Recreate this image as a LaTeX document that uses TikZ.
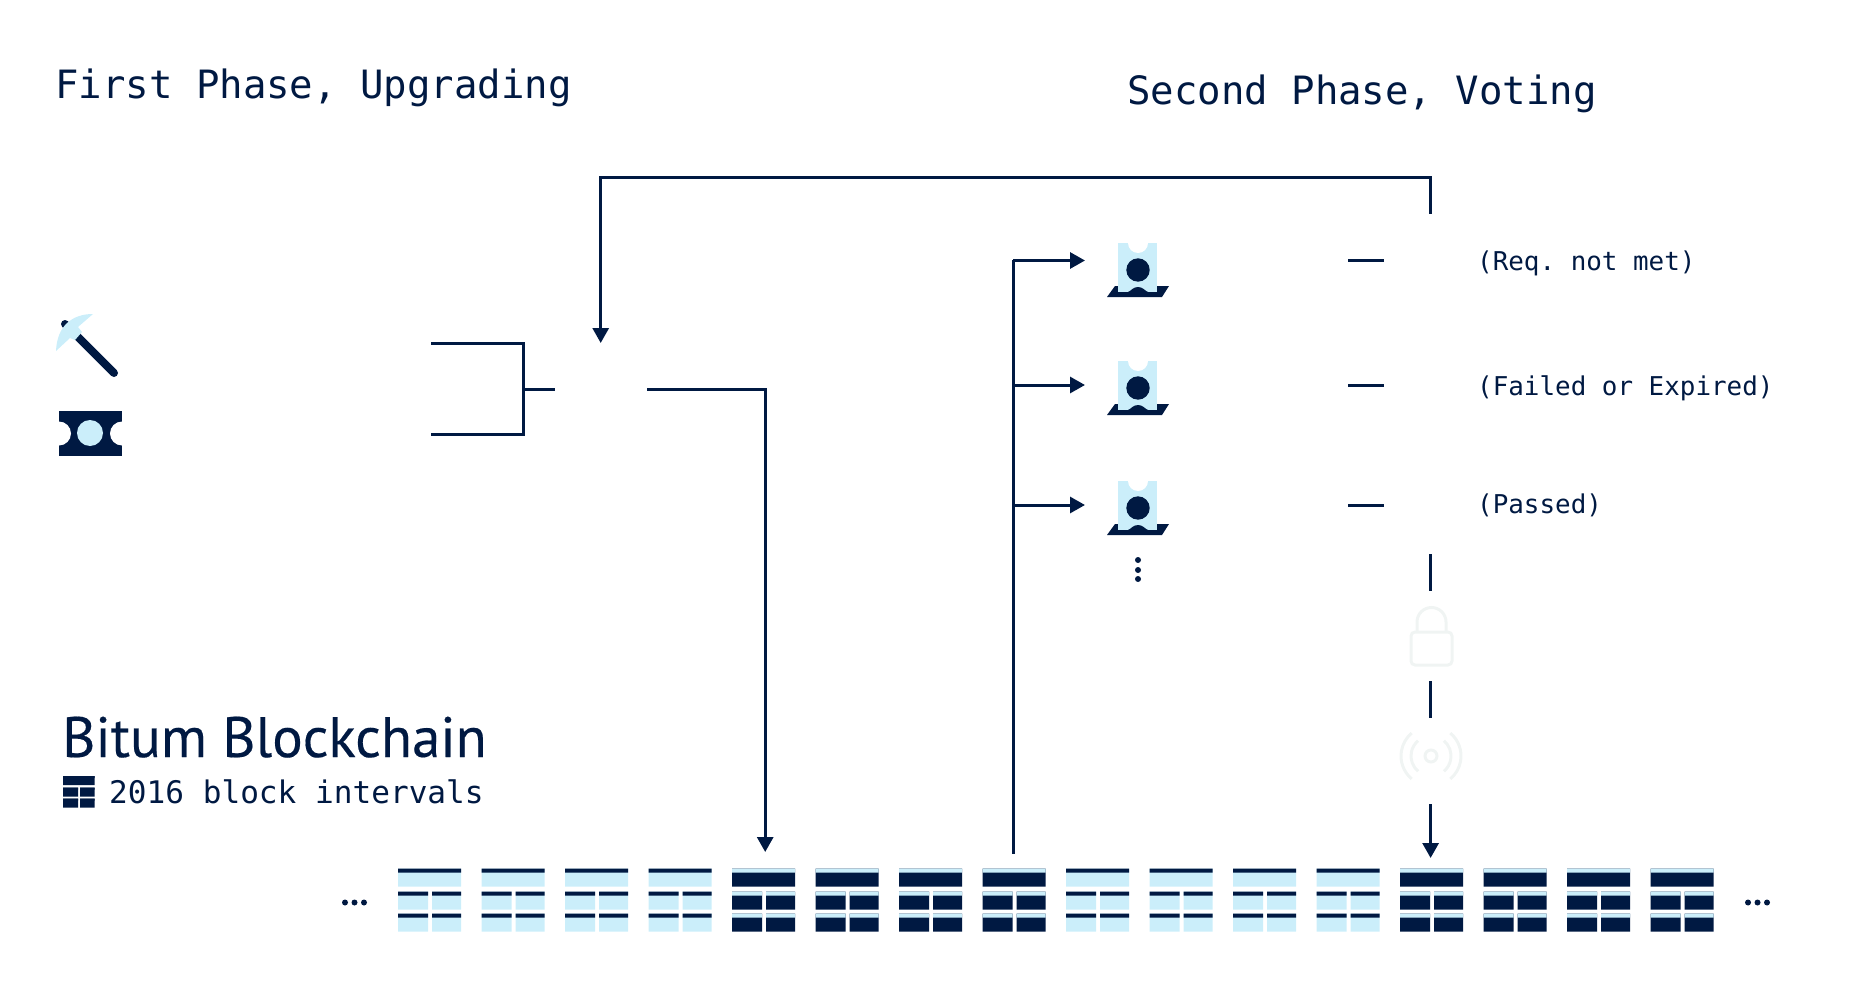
\documentclass[tikz,border=0pt]{standalone}
\usepackage{fontspec}
\setmonofont{DejaVu Sans Mono}
\newfontfamily\titlefont[FakeBold=0.3]{PT Sans}
\usetikzlibrary{arrows.meta}
\definecolor{navy}{HTML}{001942}
\definecolor{pale}{HTML}{CBEEFA}
\definecolor{ghost}{HTML}{F0F4F3}
\tikzset{
pics/block/.style 2 args={code={
\fill[#1] (0,0) rectangle (63,18) (0,23) rectangle (30,41) (34,23) rectangle (63,41) (0,45) rectangle (30,63) (34,45) rectangle (63,63);
\fill[#2] (0,0) rectangle (63,4) (0,23) rectangle (30,27) (34,23) rectangle (63,27) (0,45) rectangle (30,49) (34,45) rectangle (63,49);
}},
pics/ballot/.style={code={
\fill[navy] (-31,27) -- (-23,16) -- (31,16) -- (24,27) -- cycle;
\fill[pale] (-20,-27) rectangle (19,22);
\fill[white] (-10,-27) arc (180:0:10) -- cycle;
\fill[navy] (0,0) circle (11.7);
\fill[navy] (-10,22) .. controls (-7,21) and (-5,17) .. (0,17) .. controls (5,17) and (7,21) .. (10,22) -- cycle;
}}
}
\begin{document}
\begin{tikzpicture}[x=1pt,y=-1pt]
\tikzstyle{every node} = [anchor=base west, inner sep = 0pt, text = navy];
\tikzstyle{wire} = [navy, line width = 3pt];
\tikzstyle{arrow} = [wire, -{Triangle[length=15pt,width=16pt]}];
\tikzstyle{heading} = [font=\ttfamily\fontsize{39}{44}\selectfont];
\tikzstyle{outcome} = [font=\ttfamily\fontsize{25.9}{30}\selectfont];
\tikzstyle{faint} = [ghost, line width = 3pt];
\useasboundingbox (0,0) rectangle (1857,1000);
% texts
\node[heading] (first) at (55,99) {First Phase, Upgrading};
\node[heading] (second) at (1127,104.5) {Second Phase, Voting};
\node[outcome] (notmet) at (1477,270.5) {(Req. not met)};
\node[outcome] (failed) at (1477,395.5) {(Failed or Expired)};
\node[outcome] (passed) at (1477,513.5) {(Passed)};
\node[font=\titlefont\fontsize{57}{60}\selectfont] (chain) at (62,757) {Bitum Blockchain};
\node[font=\ttfamily\fontsize{31.1}{36}\selectfont] (interval) at (109,803.5) {2016 block intervals};
% pick and ticket
\draw[navy, line width = 8pt, line cap = round] (65,324) -- (114,373);
\fill[pale] (93,314) .. controls (72,314) and (57,326) .. (56,351) -- (70,338) -- (75,340) -- (82,332) -- (78,327) -- cycle;
\fill[navy] (59,411) rectangle (122,456);
\fill[white] (59,433.5) circle (12) (122,433.5) circle (12);
\fill[pale] (90,433) circle (13);
% ballots
\pic at (1138,270) {ballot};
\pic at (1138,388) {ballot};
\pic at (1138,508) {ballot};
\foreach \y in {560,570,579} \fill[navy] (1138,\y) circle (3);
% lock and signal
\draw[faint, rounded corners = 4pt] (1411,632) rectangle (1452,665);
\draw[faint] (1417,632) -- (1417,622) arc (180:360:14.5) -- (1446,632);
\draw[faint] (1431,756) circle (6);
\draw[faint] (1431,756) ++(-50:20) arc (-50:50:20);
\draw[faint] (1431,756) ++(130:20) arc (130:230:20);
\draw[faint] (1431,756) ++(-50:30) arc (-50:50:30);
\draw[faint] (1431,756) ++(130:30) arc (130:230:30);
% blocks
\foreach \i in {0,1,2,3,8,9,10,11} \pic at (398+83.5*\i,868.5) {block={pale}{navy}};
\foreach \i in {4,5,6,7,12,13,14,15} \pic at (398+83.5*\i,868.5) {block={navy}{pale}};
\pic[scale=.5] at (63,776) {block={navy}{navy}};
\foreach \x in {345,354.5,364,1748,1757.5,1767} \fill[navy] (\x,902.5) circle (3);
% connector ends
\coordinate (sigA) at (431,343.5);
\coordinate (sigB) at (431,434.5);
\coordinate (joint) at (523,389);
\coordinate (stub) at (555,389);
\coordinate (startOut) at (647,389);
\coordinate (startIn) at (600.7,343);
\coordinate (topBend) at (600.7,178);
\coordinate (startHit) at (765.2,852);
\coordinate (resultTop) at (1430.6,214);
\coordinate (trunkTop) at (1013.2,260.5);
\coordinate (trunkLow) at (1013.2,854);
\coordinate (trunkMid) at (1013.2,385);
\coordinate (trunkEnd) at (1013.2,505);
\coordinate (voteA) at (1085,260.5);
\coordinate (voteB) at (1085,385);
\coordinate (voteC) at (1085,505);
\coordinate (dashAl) at (1348,260.5);
\coordinate (dashAr) at (1384,260.5);
\coordinate (dashBl) at (1348,385);
\coordinate (dashBr) at (1384,385);
\coordinate (dashCl) at (1348,505);
\coordinate (dashCr) at (1384,505);
\coordinate (lockOver) at (1430.6,554);
\coordinate (lockAbove) at (1430.6,591);
\coordinate (lockUnder) at (1430.6,681);
\coordinate (radioAbove) at (1430.6,718);
\coordinate (radioUnder) at (1430.6,804);
\coordinate (passHit) at (1430.6,858);
% connectors
\draw[wire] (sigA) -| (joint) |- (sigB);
\draw[wire] (joint) -- (stub);
\draw[arrow] (resultTop) |- (topBend) -- (startIn);
\draw[arrow] (startOut) -| (startHit);
\draw[wire] (trunkTop) -- (trunkLow);
\draw[arrow] (trunkTop) -- (voteA);
\draw[arrow] (trunkMid) -- (voteB);
\draw[arrow] (trunkEnd) -- (voteC);
\draw[wire] (dashAl) -- (dashAr);
\draw[wire] (dashBl) -- (dashBr);
\draw[wire] (dashCl) -- (dashCr);
\draw[wire] (lockOver) -- (lockAbove);
\draw[wire] (lockUnder) -- (radioAbove);
\draw[arrow] (radioUnder) -- (passHit);
\end{tikzpicture}
\end{document}
